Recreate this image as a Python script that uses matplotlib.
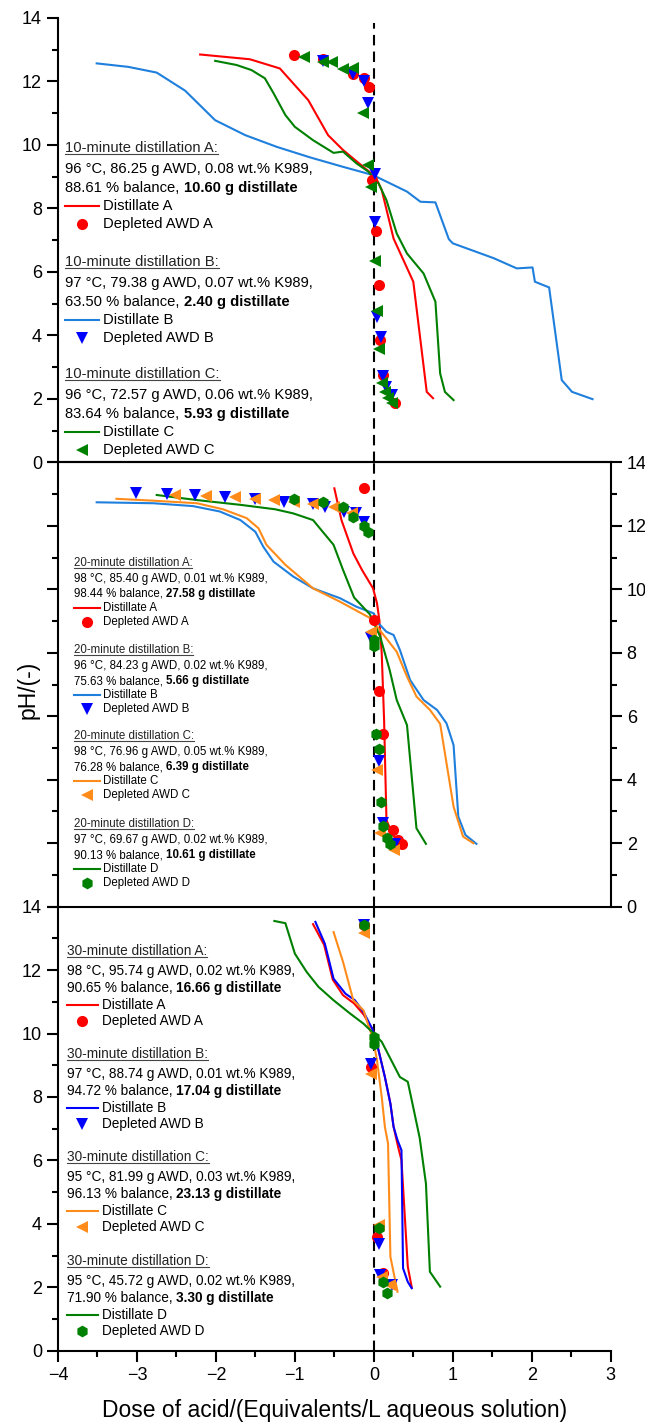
import matplotlib
matplotlib.use("Agg")
import matplotlib.pyplot as plt
from matplotlib.lines import Line2D
from matplotlib.ticker import MultipleLocator

plt.rcParams["font.family"] = ["Liberation Sans", "DejaVu Sans"]

# ---------------- data: 10-minute distillations (top panel) ----------------
t_dA_x = [-2.20, -1.57, -1.19, -0.83, -0.58, -0.39, -0.11, 0.02, 0.10, 0.25, 0.50, 0.67, 0.75]
t_dA_y = [12.85, 12.70, 12.41, 11.41, 10.31, 9.84, 9.26, 9.00, 8.58, 7.05, 5.69, 2.22, 2.02]
t_dB_x = [-3.51, -3.11, -2.75, -2.39, -2.01, -1.63, -1.23, -0.81, -0.39, -0.01, 0.42, 0.59,
          0.78, 0.95, 1.00, 1.52, 1.81, 2.01, 2.04, 2.22, 2.38, 2.51, 2.77]
t_dB_y = [12.57, 12.46, 12.28, 11.71, 10.78, 10.31, 9.94, 9.61, 9.31, 9.05, 8.53, 8.21,
          8.19, 7.03, 6.90, 6.43, 6.11, 6.14, 5.69, 5.51, 2.59, 2.22, 1.99]
t_dC_x = [-2.01, -1.74, -1.55, -1.38, -1.27, -1.12, -1.00, -0.77, -0.51, -0.39, -0.22, -0.07,
          0.06, 0.16, 0.29, 0.42, 0.63, 0.78, 0.84, 0.90, 1.01]
t_dC_y = [12.65, 12.52, 12.36, 12.10, 11.63, 10.94, 10.57, 10.15, 9.75, 9.79, 9.42, 9.16,
          8.79, 8.26, 7.21, 6.58, 5.95, 5.06, 2.80, 2.22, 1.96]
t_mA_x = [-1.01, -0.64, -0.26, -0.13, -0.06, -0.02, 0.03, 0.06, 0.08, 0.12, 0.27]
t_mA_y = [12.83, 12.70, 12.25, 12.10, 11.83, 8.89, 7.29, 5.59, 3.85, 2.75, 1.88]
t_mB_x = [-0.64, -0.26, -0.13, -0.07, 0.02, 0.02, 0.04, 0.09, 0.12, 0.16, 0.23]
t_mB_y = [12.65, 12.25, 12.02, 11.31, 9.10, 7.58, 4.59, 3.94, 2.72, 2.38, 2.12]
t_mC_x = [-0.89, -0.64, -0.53, -0.39, -0.26, -0.14, -0.07, -0.03, 0.02, 0.04, 0.07, 0.10,
          0.14, 0.18, 0.23]
t_mC_y = [12.76, 12.62, 12.62, 12.38, 12.41, 11.00, 9.37, 8.68, 6.35, 4.78, 3.56, 2.49,
          2.22, 2.02, 1.86]

# ---------------- data: 20-minute distillations (middle panel) ----------------
m_dA_x = [-0.50, -0.41, -0.26, -0.15, -0.01, 0.04, 0.07, 0.10, 0.13, 0.16, 0.23, 0.31]
m_dA_y = [13.18, 12.18, 11.13, 10.61, 10.03, 9.56, 9.03, 7.98, 5.88, 2.73, 2.31, 2.00]
m_dB_x = [-3.51, -2.79, -2.29, -1.95, -1.69, -1.50, -1.40, -1.27, -1.02, -0.77, -0.43, -0.22,
          0.00, 0.04, 0.16, 0.25, 0.33, 0.46, 0.63, 0.80, 0.92, 1.01, 1.07, 1.16, 1.30]
m_dB_y = [12.74, 12.71, 12.62, 12.45, 12.18, 11.81, 11.34, 10.87, 10.40, 10.03, 9.72, 9.45,
          9.24, 8.98, 8.66, 8.56, 8.09, 7.14, 6.51, 6.20, 5.78, 5.09, 2.84, 2.26, 1.98]
m_dC_x = [-3.26, -2.79, -2.24, -1.91, -1.61, -1.46, -1.36, -1.12, -0.77, -0.43, 0.00, 0.04,
          0.14, 0.29, 0.42, 0.54, 0.71, 0.84, 1.01, 1.13, 1.26]
m_dC_y = [12.85, 12.79, 12.71, 12.52, 12.24, 11.92, 11.40, 10.77, 10.03, 9.61, 9.03, 8.82,
          8.51, 8.03, 7.25, 6.62, 6.20, 5.76, 3.15, 2.21, 2.00]
m_dD_x = [-2.75, -2.24, -1.69, -1.25, -1.02, -0.77, -0.51, -0.39, -0.25, -0.05, 0.08, 0.20,
          0.29, 0.42, 0.54, 0.66]
m_dD_y = [12.97, 12.81, 12.66, 12.52, 12.39, 12.18, 11.40, 10.61, 9.74, 9.21, 8.51, 7.46,
          6.51, 5.72, 2.47, 1.98]
m_mA_x = [-0.13, 0.00, 0.06, 0.12, 0.24, 0.30, 0.36]
m_mA_y = [13.18, 9.03, 6.81, 5.43, 2.42, 2.10, 1.97]
m_mB_x = [-3.01, -2.62, -2.26, -1.88, -1.50, -1.14, -0.77, -0.62, -0.38, -0.23, -0.12, -0.03,
          0.06, 0.12, 0.27]
m_mB_y = [13.02, 13.00, 12.97, 12.92, 12.83, 12.76, 12.70, 12.60, 12.45, 12.39, 12.13, 8.46,
          4.60, 2.63, 1.98]
m_mC_x = [-2.52, -2.13, -1.76, -1.50, -1.27, -1.01, -0.77, -0.51, -0.28, -0.03, 0.04, 0.08, 0.26]
m_mC_y = [12.97, 12.94, 12.90, 12.83, 12.80, 12.76, 12.70, 12.60, 12.39, 8.66, 4.31, 2.31, 1.79]
m_mD_x = [-1.01, -0.64, -0.39, -0.26, -0.13, -0.07, 0.00, 0.00, 0.03, 0.06, 0.09, 0.12, 0.17, 0.20]
m_mD_y = [12.84, 12.74, 12.60, 12.29, 11.99, 11.81, 8.40, 8.22, 5.43, 4.97, 3.31, 2.54, 2.15, 1.98]

# ---------------- data: 30-minute distillations (bottom panel) ----------------
b_dA_x = [-0.77, -0.63, -0.52, -0.39, -0.25, -0.13, -0.01, 0.06, 0.14, 0.21, 0.25, 0.31, 0.35,
          0.43, 0.48]
b_dA_y = [13.45, 12.80, 11.70, 11.21, 10.95, 10.60, 10.10, 9.47, 8.63, 7.79, 7.06, 6.40, 6.01,
          2.65, 2.00]
b_dB_x = [-0.74, -0.62, -0.51, -0.36, -0.24, -0.13, -0.01, 0.06, 0.14, 0.21, 0.25, 0.30, 0.35,
          0.37, 0.43, 0.48]
b_dB_y = [13.52, 12.83, 11.73, 11.26, 11.05, 10.68, 10.10, 9.47, 8.63, 7.79, 7.06, 6.64, 6.32,
          2.60, 2.17, 1.97]
b_dC_x = [-0.51, -0.39, -0.26, -0.13, -0.07, -0.01, 0.04, 0.10, 0.14, 0.18, 0.21, 0.30]
b_dC_y = [13.20, 12.26, 11.05, 10.73, 10.26, 9.84, 9.16, 8.00, 7.06, 6.53, 2.96, 1.86]
b_dD_x = [-1.26, -1.12, -1.00, -0.85, -0.70, -0.51, -0.30, -0.13, 0.00, 0.10, 0.21, 0.33, 0.43,
          0.48, 0.58, 0.66, 0.71, 0.84]
b_dD_y = [13.55, 13.48, 12.52, 11.94, 11.47, 11.05, 10.63, 10.31, 10.00, 9.74, 9.21, 8.63, 8.48,
          7.90, 6.72, 5.27, 2.49, 2.02]
b_mA_x = [-0.13, -0.03, 0.04, 0.11]
b_mA_y = [13.41, 8.95, 3.57, 2.44]
b_mB_x = [-0.13, -0.03, 0.06, 0.08, 0.23]
b_mB_y = [13.41, 9.05, 3.38, 2.38, 2.07]
b_mC_x = [-0.13, -0.03, 0.06, 0.10, 0.20]
b_mC_y = [13.17, 8.74, 3.96, 2.33, 2.07]
b_mD_x = [-0.13, 0.00, 0.00, 0.06, 0.12, 0.17]
b_mD_y = [13.41, 9.89, 9.68, 3.86, 2.17, 1.83]

# ---------------- legend texts ----------------
top_titles = ["10-minute distillation A:", "10-minute distillation B:", "10-minute distillation C:"]
top_cond = ["96 °C, 86.25 g AWD, 0.08 wt.% K989,", "97 °C, 79.38 g AWD, 0.07 wt.% K989,",
            "96 °C, 72.57 g AWD, 0.06 wt.% K989,"]
top_bal = ["88.61 % balance, ", "63.50 % balance, ", "83.64 % balance, "]
top_mass = ["10.60 g distillate", "2.40 g distillate", "5.93 g distillate"]

mid_titles = ["20-minute distillation A:", "20-minute distillation B:",
              "20-minute distillation C:", "20-minute distillation D:"]
mid_cond = ["98 °C, 85.40 g AWD, 0.01 wt.% K989,", "96 °C, 84.23 g AWD, 0.02 wt.% K989,",
            "98 °C, 76.96 g AWD, 0.05 wt.% K989,", "97 °C, 69.67 g AWD, 0.02 wt.% K989,"]
mid_bal = ["98.44 % balance, ", "75.63 % balance, ", "76.28 % balance, ", "90.13 % balance, "]
mid_mass = ["27.58 g distillate", "5.66 g distillate", "6.39 g distillate", "10.61 g distillate"]

bot_titles = ["30-minute distillation A:", "30-minute distillation B:",
              "30-minute distillation C:", "30-minute distillation D:"]
bot_cond = ["98 °C, 95.74 g AWD, 0.02 wt.% K989,", "97 °C, 88.74 g AWD, 0.01 wt.% K989,",
            "95 °C, 81.99 g AWD, 0.03 wt.% K989,", "95 °C, 45.72 g AWD, 0.02 wt.% K989,"]
bot_bal = ["90.65 % balance, ", "94.72 % balance, ", "96.13 % balance, ", "71.90 % balance, "]
bot_mass = ["16.66 g distillate", "17.04 g distillate", "23.13 g distillate", "3.30 g distillate"]

letters = ["A", "B", "C", "D"]

RED = "#FF0000"
LBLUE = "#1E7FDD"
BLUE = "#0000FF"
GREEN = "#008000"
ORANGE = "#FF8C1A"

# marker size per marker type
MSIZE = {"o": 8, "v": 9, "<": 9, "h": 8.5}

W_PX, H_PX = 645, 1425
fig = plt.figure(figsize=(W_PX / 100, H_PX / 100), dpi=100)


def fx(px):
    return px / W_PX


def fy(py):
    return 1 - py / H_PX


x_left, x_right = 58, 610.7
panels_px = [(18, 462.3), (462.3, 906.7), (906.7, 1350.7)]
axes = []
for top, bot in panels_px:
    ax = fig.add_axes([fx(x_left), fy(bot), fx(x_right) - fx(x_left), (bot - top) / H_PX])
    ax.set_xlim(-4, 3)
    ax.set_ylim(0, 14)
    ax.patch.set_alpha(0)
    for s in ax.spines.values():
        s.set_linewidth(1.5)
    axes.append(ax)
ax_t, ax_m, ax_b = axes

for ax in axes:
    ax.yaxis.set_major_locator(MultipleLocator(2))
    ax.yaxis.set_minor_locator(MultipleLocator(1))
    ax.xaxis.set_major_locator(MultipleLocator(1))
    ax.xaxis.set_minor_locator(MultipleLocator(0.5))
    ax.tick_params(which="major", length=8, width=1.5, labelsize=13, direction="out")
    ax.tick_params(which="minor", length=4, width=1.5, direction="out")

ax_t.spines["top"].set_visible(False)
ax_t.spines["right"].set_visible(False)
ax_t.tick_params(axis="x", which="both", bottom=False, labelbottom=False)

ax_m.tick_params(axis="x", which="both", bottom=False, labelbottom=False)
ax_m.tick_params(axis="y", which="both", left=True, labelleft=False, right=True, labelright=True)

ax_b.spines["top"].set_visible(False)
ax_b.spines["right"].set_visible(False)

dash_kw = dict(color="black", lw=1.5, dashes=(5, 3), zorder=1)
ax_t.axvline(0, ymax=13.85 / 14, **dash_kw)
ax_m.axvline(0, **dash_kw)
ax_b.axvline(0, **dash_kw)

LW = 1.5


def markers(ax, x, y, mk, color):
    ax.plot(x, y, mk, color=color, ms=MSIZE[mk], mew=0)


# top panel
ax_t.plot(t_dA_x, t_dA_y, color=RED, lw=LW)
ax_t.plot(t_dB_x, t_dB_y, color=LBLUE, lw=LW)
ax_t.plot(t_dC_x, t_dC_y, color=GREEN, lw=LW)
markers(ax_t, t_mA_x, t_mA_y, "o", RED)
markers(ax_t, t_mB_x, t_mB_y, "v", BLUE)
markers(ax_t, t_mC_x, t_mC_y, "<", GREEN)

# middle panel
ax_m.plot(m_dA_x, m_dA_y, color=RED, lw=LW)
ax_m.plot(m_dB_x, m_dB_y, color=LBLUE, lw=LW)
ax_m.plot(m_dC_x, m_dC_y, color=ORANGE, lw=LW)
ax_m.plot(m_dD_x, m_dD_y, color=GREEN, lw=LW)
markers(ax_m, m_mA_x, m_mA_y, "o", RED)
markers(ax_m, m_mB_x, m_mB_y, "v", BLUE)
markers(ax_m, m_mC_x, m_mC_y, "<", ORANGE)
markers(ax_m, m_mD_x, m_mD_y, "h", GREEN)

# bottom panel
ax_b.plot(b_dA_x, b_dA_y, color=RED, lw=LW)
ax_b.plot(b_dB_x, b_dB_y, color=BLUE, lw=LW)
ax_b.plot(b_dC_x, b_dC_y, color=ORANGE, lw=LW)
ax_b.plot(b_dD_x, b_dD_y, color=GREEN, lw=LW)
markers(ax_b, b_mA_x, b_mA_y, "o", RED)
markers(ax_b, b_mB_x, b_mB_y, "v", BLUE)
markers(ax_b, b_mC_x, b_mC_y, "<", ORANGE)
markers(ax_b, b_mD_x, b_mD_y, "h", GREEN)

headings = []


def legend_block(ax, x0, y0, offs, fs, title, cond, bal, mass, lcolor, marker, mcolor,
                 letter, line_x, text_x, marker_x):
    h = fig.text(fx(x0), fy(y0), title, fontsize=fs, va="center", color="#222222")
    headings.append(h)
    fig.text(fx(x0), fy(y0 + offs[1]), cond, fontsize=fs, va="center")
    t = fig.text(fx(x0), fy(y0 + offs[2]), bal, fontsize=fs, va="center")
    ax.annotate(mass, xy=(1, 0.5), xycoords=t, fontsize=fs, va="center", ha="left",
                fontweight="bold")
    fig.add_artist(Line2D([fx(line_x[0]), fx(line_x[1])], [fy(y0 + offs[3])] * 2,
                          color=lcolor, lw=LW, transform=fig.transFigure))
    fig.text(fx(text_x), fy(y0 + offs[3]), "Distillate " + letter, fontsize=fs, va="center")
    fig.add_artist(Line2D([fx(marker_x)], [fy(y0 + offs[4])], marker=marker, color=mcolor,
                          ms=MSIZE[marker], mew=0, transform=fig.transFigure))
    fig.text(fx(text_x), fy(y0 + offs[4]), "Depleted AWD " + letter, fontsize=fs, va="center")


top_styles = [(RED, "o", RED), (LBLUE, "v", BLUE), (GREEN, "<", GREEN)]
mid_styles = [(RED, "o", RED), (LBLUE, "v", BLUE), (ORANGE, "<", ORANGE), (GREEN, "h", GREEN)]
bot_styles = [(RED, "o", RED), (BLUE, "v", BLUE), (ORANGE, "<", ORANGE), (GREEN, "h", GREEN)]

for i, y0 in enumerate([148, 262, 374]):
    lc, mk, mc = top_styles[i]
    legend_block(ax_t, 65.4, y0, [0, 21, 40, 58, 76], 10.6, top_titles[i], top_cond[i],
                 top_bal[i], top_mass[i], lc, mk, mc, letters[i], (65, 99), 103, 82)

for i, y0 in enumerate([563, 650, 736, 824]):
    lc, mk, mc = mid_styles[i]
    legend_block(ax_m, 73.5, y0, [0, 16, 31, 45, 59], 8.3, mid_titles[i], mid_cond[i],
                 mid_bal[i], mid_mass[i], lc, mk, mc, letters[i], (73.5, 100), 103, 87)

for i, y0 in enumerate([951, 1054, 1157, 1261]):
    lc, mk, mc = bot_styles[i]
    legend_block(ax_b, 67, y0, [0, 20, 37, 54, 70], 9.8, bot_titles[i], bot_cond[i],
                 bot_bal[i], bot_mass[i], lc, mk, mc, letters[i], (67, 97.5), 101.6, 82)

fig.text(fx(28), fy(690), "pH/(-)", fontsize=16.5, rotation=90, ha="center", va="center")
fig.text(fx((x_left + x_right) / 2), fy(1410), "Dose of acid/(Equivalents/L aqueous solution)",
         fontsize=16.5, ha="center", va="center")

# underline the block headings
fig.canvas.draw()
renderer = fig.canvas.get_renderer()
for h in headings:
    bb = h.get_window_extent(renderer).transformed(fig.transFigure.inverted())
    yl = bb.y0 + 1.5 / H_PX
    fig.add_artist(Line2D([bb.x0, bb.x1], [yl, yl], color="#444444", lw=0.8,
                          transform=fig.transFigure))

fig.savefig("out.png", dpi=100)
plt.close(fig)
